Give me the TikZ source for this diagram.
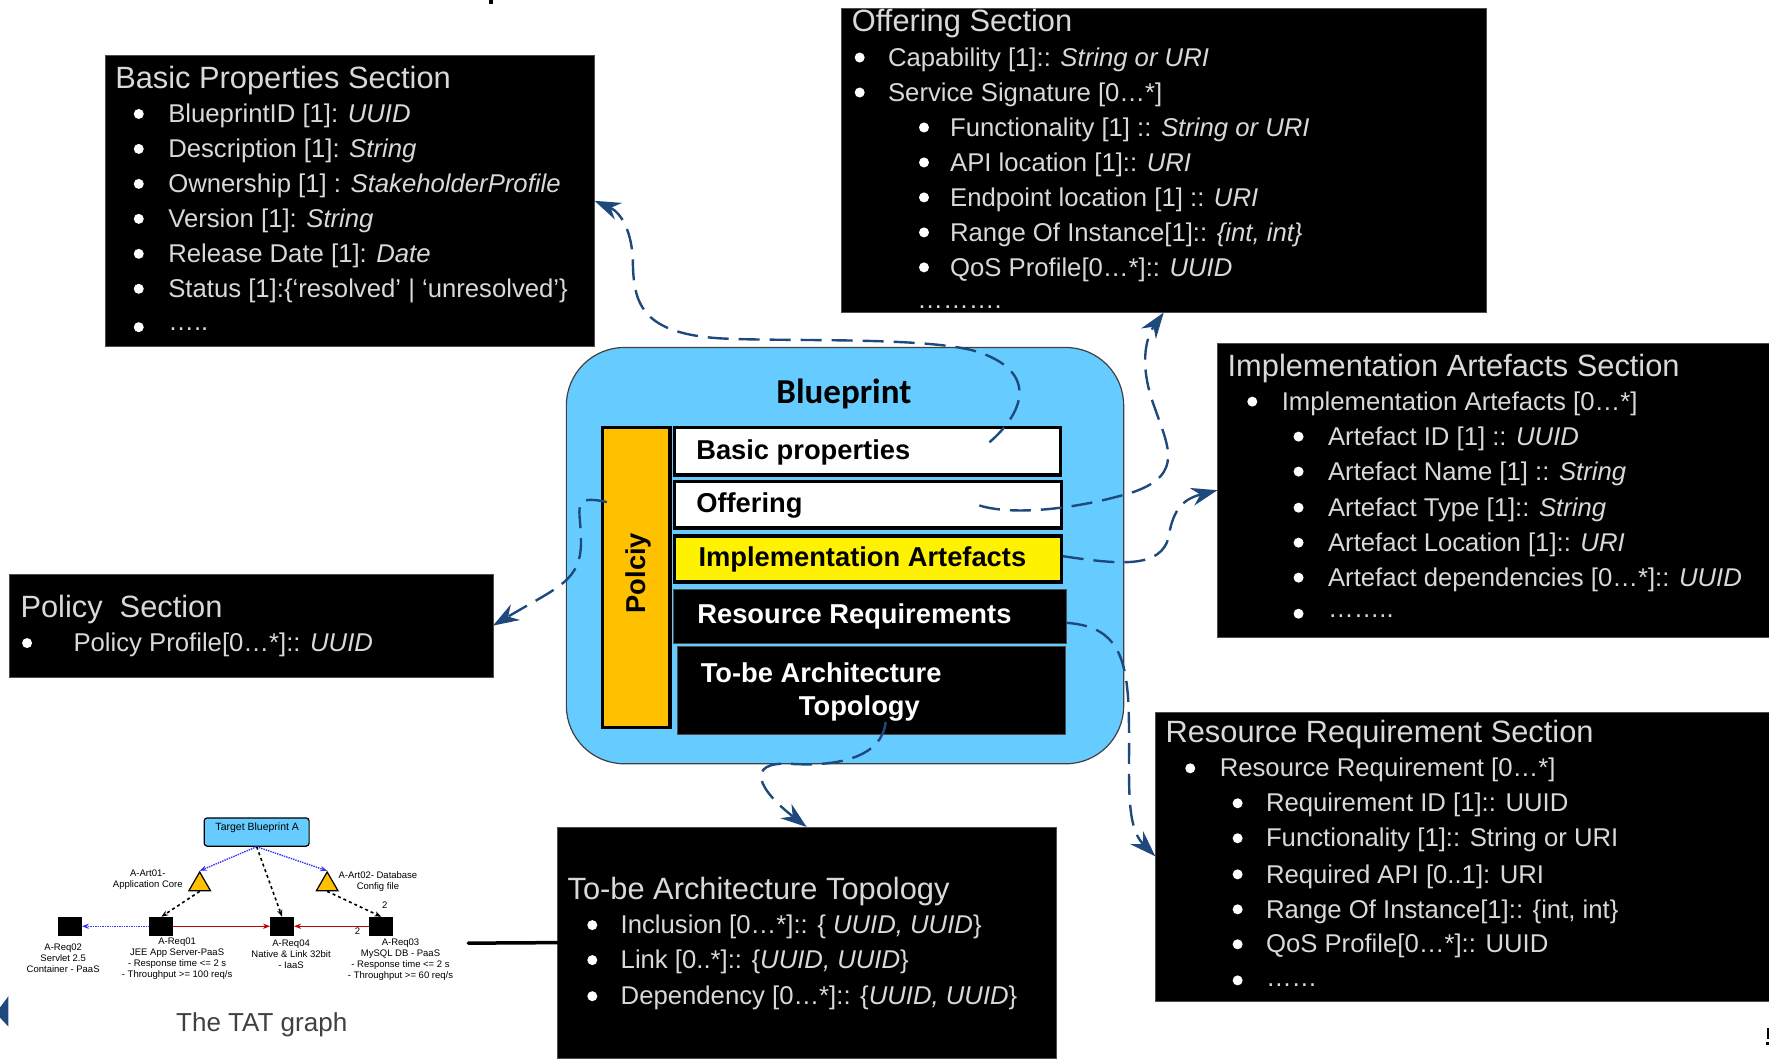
\documentclass[tikz,border=0pt]{standalone}
\usepackage{fontspec}
\setmainfont{Liberation Sans}
\newfontfamily\bluefont{Carlito}
\usetikzlibrary{arrows.meta,fit,shapes.geometric}

\definecolor{bpblue}{HTML}{66CCFF}
\definecolor{bporange}{HTML}{FFC000}
\definecolor{linkblue}{HTML}{1F497D}

\tikzset{
	secbox/.style={fill=black,draw=black!70,inner sep=0pt,outer sep=0pt},
	rowbox/.style={fill=white,draw=black,line width=3.5pt,inner sep=0pt,outer sep=0pt},
	sectitle/.style={anchor=west,inner sep=0pt,text=white!85!black,font=\fontsize{30.8}{34}\selectfont},
	secline/.style={anchor=west,inner sep=0pt,text=white!85!black,font=\fontsize{25.7}{30}\selectfont},
	secdot/.style={circle,fill=white,inner sep=0pt,minimum size=10pt},
	rowtext/.style={anchor=west,inner sep=0pt,font=\bfseries\fontsize{27.3}{30}\selectfont},
	seclink/.style={draw=linkblue,line width=2.4pt,dash pattern=on 21pt off 10pt,-{Stealth[length=26pt,width=18pt]}},
	tatbox/.style={fill=black,inner sep=0pt,outer sep=0pt,minimum width=24pt,minimum height=19pt},
	tattri/.style={regular polygon,regular polygon sides=3,fill=bporange,draw=black,line width=1.2pt,inner sep=0pt,minimum size=25pt},
	tattext/.style={align=center,inner sep=0pt,font=\fontsize{9.5}{11}\selectfont},
	tatdash/.style={draw=black,line width=1.6pt,dashed,-{Stealth[length=7pt]}},
	tatdot/.style={draw=blue!80,line width=1.4pt,densely dotted,-{Stealth[length=7pt]}},
	tatred/.style={draw=red!75!black,line width=1.5pt,-{Stealth[length=7pt]}},
}

% bullet x, text x, y, name, text
\newcommand{\secitem}[5]{
	\node[secdot] (#4dot) at (#1,#3) {};
	\node[secline] (#4) at (#2,#3+1.8) {#5};
}

\begin{document}
\begin{tikzpicture}[x=1.12819pt,y=-1.12819pt]
	\useasboundingbox (0,0) rectangle (1568,940.45);

	% sections
	\node[secbox,fit={(93,49) (527,307)}] (sbasic) {};
	\node[secbox,fit={(746,7) (1317,277)}] (soffer) {};
	\node[secbox,fit={(1079,304) (1568,565)}] (simpl) {};
	\node[secbox,fit={(8,509) (437,600)}] (spolicy) {};
	\node[secbox,fit={(1024,631) (1568,887)}] (sres) {};
	\node[secbox,fit={(494,733) (936,938)}] (stobe) {};

	% basic properties
	\node[sectitle] (tbasic) at (102,71) {Basic Properties Section};
	\secitem{123}{149}{101}{ba}{BlueprintID [1]: \textit{UUID}}
	\secitem{123}{149}{132}{bb}{Description [1]: \textit{String}}
	\secitem{123}{149}{163}{bc}{Ownership [1] : \textit{StakeholderProfile}}
	\secitem{123}{149}{194}{bd}{Version [1]: \textit{String}}
	\secitem{123}{149}{225}{be}{Release Date [1]: \textit{Date}}
	\secitem{123}{149}{256}{bf}{Status [1]:\{‘resolved’ | ‘unresolved’\}}
	\secitem{123}{149}{290}{bg}{…..}

	% offering
	\node[sectitle] (toffer) at (755,21) {Offering Section};
	\secitem{762}{787}{51}{oa}{Capability [1]:: \textit{String or URI}}
	\secitem{762}{787}{82}{ob}{Service Signature [0…*]}
	\secitem{819}{842}{113}{oc}{Functionality [1] :: \textit{String or URI}}
	\secitem{819}{842}{144}{od}{API location [1]:: \textit{URI}}
	\secitem{819}{842}{175}{oe}{Endpoint location [1] :: \textit{URI}}
	\secitem{819}{842}{206}{of}{Range Of Instance[1]:: \textit{\{int, int\}}}
	\secitem{819}{842}{237}{og}{QoS Profile[0…*]:: \textit{UUID}}
	\node[secline] (oh) at (813,272) {……….};

	% implementation artefacts
	\node[sectitle] (timpl) at (1088,327) {Implementation Artefacts Section};
	\secitem{1110}{1136}{356}{ia}{Implementation Artefacts [0…*]}
	\secitem{1151}{1177}{387}{ib}{Artefact ID [1] :: \textit{UUID}}
	\secitem{1151}{1177}{418}{ic}{Artefact Name [1] :: \textit{String}}
	\secitem{1151}{1177}{450}{id}{Artefact Type [1]:: \textit{String}}
	\secitem{1151}{1177}{481}{ie}{Artefact Location [1]:: \textit{URI}}
	\secitem{1151}{1177}{512}{if}{Artefact dependencies [0…*]:: \textit{UUID}}
	\secitem{1151}{1177}{544}{ig}{……..}

	% policy
	\node[sectitle] (tpolicy) at (18,540) {Policy\ \ Section};
	\secitem{24}{65}{570}{pa}{Policy Profile[0…*]:: \textit{UUID}}

	% resource requirement
	\node[sectitle] (tres) at (1033,651) {Resource Requirement Section};
	\secitem{1055}{1081}{681}{ra}{Resource Requirement [0…*]}
	\secitem{1097}{1122}{712}{rb}{Requirement ID [1]:: UUID}
	\secitem{1097}{1122}{743}{rc}{Functionality [1]:: String or URI}
	\secitem{1097}{1122}{775}{rd}{Required API [0..1]: URI}
	\secitem{1097}{1122}{806}{re}{Range Of Instance[1]:: \{int, int\}}
	\secitem{1097}{1122}{837}{rf}{QoS Profile[0…*]:: UUID}
	\node[secdot] (rgdot) at (1097,869) {};
	\node[secline] (rg) at (1122,873) {……};

	% to-be topology
	\node[sectitle] (ttobe) at (503,790) {To-be Architecture Topology};
	\secitem{525}{550}{820}{ta}{Inclusion [0…*]:: \{ \textit{UUID, UUID}\}}
	\secitem{525}{550}{851}{tb}{Link [0..*]:: \{\textit{UUID, UUID}\}}
	\secitem{525}{550}{883}{tc}{Dependency [0…*]:: \{\textit{UUID, UUID}\}}

	% blueprint
	\node[fill=bpblue,draw=black!75,line width=1.2pt,rounded corners=58pt,inner sep=0pt,outer sep=0pt,fit={(502,308) (996,677)}] (bprint) {};
	\node[inner sep=0pt,font=\bluefont\bfseries\fontsize{35}{37}\selectfont] (tbprint) at (748,349) {Blueprint};
	\node[rowbox,fill=bporange,fit={(534,379) (594,645)}] (rpolicy) {};
	\node[rowbox,fit={(598,379) (940,421)}] (rbasic) {};
	\node[rowbox,fit={(598,427) (941,468)}] (roffer) {};
	\node[rowbox,fill=yellow,fit={(598,475) (941,516)}] (rimpl) {};
	\node[secbox,fit={(597,522) (945,570)}] (rres) {};
	\node[secbox,fit={(600,573) (944,651)}] (rtobe) {};
	\node[rowtext,anchor=center,rotate=90] (tpol) at (566,508) {Polciy};
	\node[rowtext] (trbasic) at (617,401) {Basic properties};
	\node[rowtext] (troffer) at (617,448) {Offering};
	\node[rowtext] (trimpl) at (619,496) {Implementation Artefacts};
	\node[rowtext,text=white] (trres) at (618,546) {Resource Requirements};
	\node[rowtext,text=white] (trtobe) at (621,596) {To-be Architecture};
	\node[rowtext,text=white] (trtop) at (708,628) {Topology};

	% links
	\coordinate (lbasic) at (877,392);
	\coordinate (loffer) at (868,448);
	\coordinate (limpl) at (942,493);
	\coordinate (lres) at (945,552);
	\coordinate (ltobe) at (785,640);
	\coordinate (lpolicy) at (538,445);
	\draw[seclink] (lbasic) .. controls (905,368) and (922,332) .. (870,313) .. controls (830,298) and (700,303) .. (640,300) .. controls (570,296) and (562,270) .. (561,235) .. controls (561,205) and (550,188) .. (sbasic.east);
	\draw[seclink] (loffer) .. controls (900,458) and (960,450) .. (1005,436) .. controls (1050,420) and (1035,395) .. (1023,360) .. controls (1010,325) and (1015,300) .. (soffer.south);
	\draw[seclink] (limpl) .. controls (990,500) and (1030,505) .. (1036,475) .. controls (1040,450) and (1050,442) .. (simpl.west);
	\draw[seclink] (lres) .. controls (985,555) and (997,575) .. (1000,620) .. controls (1003,680) and (995,730) .. (sres.west);
	\draw[seclink] (ltobe) .. controls (782,670) and (745,680) .. (700,677) .. controls (660,675) and (672,700) .. (stobe.north);
	\draw[seclink] (lpolicy) .. controls (505,438) and (515,450) .. (515,480) .. controls (515,515) and (495,520) .. (spolicy.east);

	% TAT graph
	\node[fill=bpblue,draw=black,line width=1.2pt,rounded corners=3pt,inner sep=0pt,fit={(181,725) (274,750)}] (tattarget) {};
	\node[tattext,font=\fontsize{10.5}{11}\selectfont] (tattargett) at (228,734) {Target Blueprint A};
	\node[tattri] (tatarta) at (177,784) {};
	\node[tattri] (tatartb) at (290,784) {};
	\node[tatbox] (tatreqb) at (62,821) {};
	\node[tatbox] (tatreqa) at (143,821) {};
	\node[tatbox] (tatreqd) at (250,821) {};
	\node[tatbox] (tatreqc) at (338,821) {};
	\draw[tatdot] (tattarget.south) -- (tatarta.north);
	\draw[tatdot] (tattarget.south) -- (tatartb.north);
	\draw[tatdash] (tattarget.south) -- (tatreqd.north);
	\draw[tatdash] (tatarta.south) -- (tatreqa.north);
	\draw[tatdash] (tatartb.south) -- (tatreqc.north);
	\draw[tatdot] (tatreqa) -- (tatreqb);
	\draw[tatred] (tatreqa) -- (tatreqd);
	\draw[tatred] (tatreqc) -- (tatreqd);
	\node[tattext] (tatla) at (131,780) {A-Art01-\\Application Core};
	\node[tattext] (tatlb) at (335,781) {A-Art02- Database\\Config file};
	\node[tattext] (tatlc) at (56,849) {A-Req02\\Servlet 2.5\\Container - PaaS};
	\node[tattext] (tatld) at (157,850) {A-Req01\\JEE App Server-PaaS\\- Response time <= 2 s\\- Throughput >= 100 req/s};
	\node[tattext] (tatle) at (258,846) {A-Req04\\Native \& Link 32bit\\- IaaS};
	\node[tattext] (tatlf) at (355,851) {A-Req03\\MySQL DB - PaaS\\- Response time <= 2 s\\- Throughput >= 60 req/s};
	\node[tattext] (tatna) at (341,802) {2};
	\node[tattext] (tatnb) at (317,825) {2};
	\node[inner sep=0pt,text=black!75,font=\fontsize{26}{30}\selectfont] (tatname) at (232,908) {The TAT graph};
	\coordinate (tatlink) at (415,836);
	\draw[line width=3.5pt,line cap=round] (tatlink) -- (stobe.west);

	% cut-off bits at the page edges
	\fill (433.5,0) rectangle (437,3.5);
	\fill (1566.5,911) rectangle (1568,921);
	\fill (1565.5,924) rectangle (1568,926);
	\fill[linkblue] (7.5,883) -- (0,893) -- (0,902) -- (7.5,910) -- cycle;
\end{tikzpicture}
\end{document}
